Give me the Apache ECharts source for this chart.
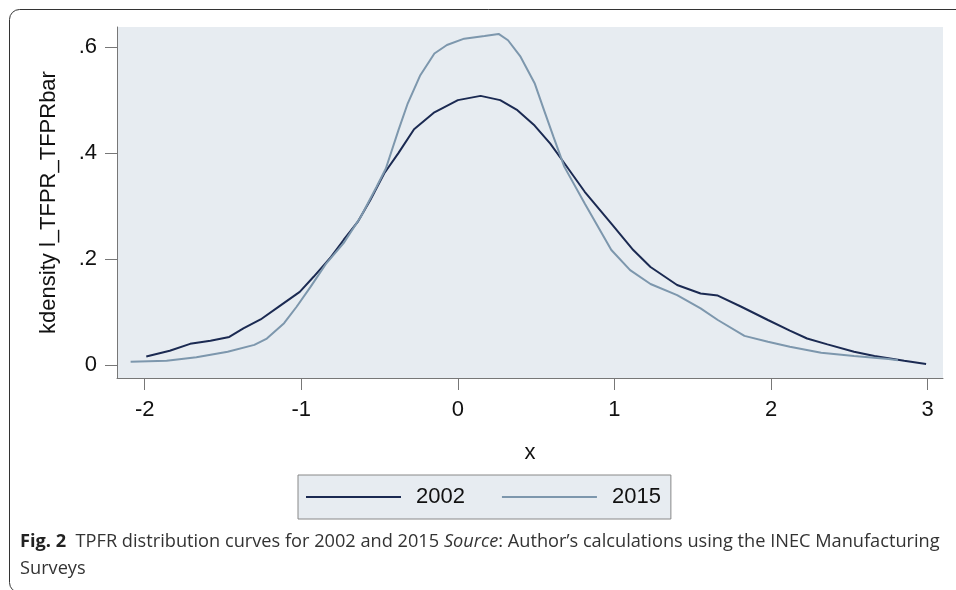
<!DOCTYPE html>
<html>
<head>
<meta charset="utf-8">
<script src="https://cdn.jsdelivr.net/npm/echarts@6/dist/echarts.min.js"></script>
<style>
  html, body { margin: 0; padding: 0; background: #fff; }
  #main { width: 956px; height: 590px; }
</style>
</head>
<body>
<div id="main"></div>
<script>
// kdensity 2002
const x2002 = [-1.99, -1.84, -1.71, -1.58, -1.46, -1.37, -1.26, -1.13, -1.01, -0.92, -0.81, -0.73, -0.64, -0.56, -0.47, -0.38, -0.28, -0.15, 0.00, 0.145, 0.27, 0.38, 0.49, 0.59, 0.67, 0.81, 0.98, 1.12, 1.23, 1.40, 1.55, 1.66, 1.81, 1.98, 2.12, 2.23, 2.36, 2.53, 2.66, 2.85, 2.99];
const y2002 = [0.016, 0.027, 0.040, 0.046, 0.053, 0.069, 0.086, 0.113, 0.138, 0.167, 0.204, 0.236, 0.270, 0.311, 0.362, 0.400, 0.445, 0.477, 0.500, 0.508, 0.500, 0.481, 0.452, 0.418, 0.385, 0.327, 0.267, 0.217, 0.185, 0.151, 0.135, 0.131, 0.110, 0.085, 0.065, 0.050, 0.039, 0.025, 0.017, 0.008, 0.002];
// kdensity 2015
const x2015 = [-2.09, -1.86, -1.67, -1.47, -1.30, -1.22, -1.11, -1.03, -0.94, -0.84, -0.73, -0.62, -0.52, -0.46, -0.38, -0.32, -0.24, -0.15, -0.07, 0.04, 0.17, 0.26, 0.32, 0.40, 0.49, 0.55, 0.61, 0.68, 0.81, 0.98, 1.10, 1.23, 1.40, 1.55, 1.66, 1.83, 1.98, 2.12, 2.32, 2.53, 2.75, 2.81];
const y2015 = [0.006, 0.008, 0.0145, 0.025, 0.038, 0.050, 0.079, 0.110, 0.148, 0.192, 0.230, 0.280, 0.336, 0.371, 0.443, 0.494, 0.547, 0.588, 0.604, 0.616, 0.621, 0.625, 0.613, 0.582, 0.532, 0.481, 0.431, 0.374, 0.305, 0.217, 0.179, 0.153, 0.132, 0.107, 0.085, 0.055, 0.044, 0.0346, 0.023, 0.017, 0.0113, 0.009];

const xTicks = [-2, -1, 0, 1, 2, 3];
const yTicks = [0, 0.2, 0.4, 0.6];
const seriesNames = ['2002', '2015'];

const zip = (xs, ys) => xs.map((x, i) => [x, ys[i]]);

const font = 'Liberation Sans, Arial, sans-serif';
const capFont = 'Open Sans, Noto Sans, sans-serif';

let myChart = echarts.init(document.getElementById('main'));
myChart.setOption({
  animation: false,
  textStyle: { fontFamily: font },
  grid: {
    left: 117, top: 27, width: 826, height: 351,
    show: true, backgroundColor: '#e7ecf1', borderWidth: 0
  },
  xAxis: {
    type: 'value',
    min: -2.177, max: 3.098,
    name: 'x',
    nameLocation: 'middle',
    nameGap: 64,
    nameTextStyle: { fontSize: 22, color: '#111', fontFamily: font },
    axisLine: { show: true, onZero: false, lineStyle: { color: '#777', width: 1 } },
    axisTick: { show: true, length: 12, lineStyle: { color: '#777' }, customValues: xTicks },
    axisLabel: { fontSize: 22, color: '#111', margin: 21, customValues: xTicks },
    splitLine: { show: false }
  },
  yAxis: {
    type: 'value',
    min: -0.0245, max: 0.638,
    name: 'kdensity l_TFPR_TFPRbar',
    nameLocation: 'middle',
    nameGap: 57,
    nameTextStyle: { fontSize: 22, color: '#111', fontFamily: font },
    axisLine: { show: true, onZero: false, lineStyle: { color: '#777', width: 1 } },
    axisTick: { show: true, length: 12, lineStyle: { color: '#777' }, customValues: yTicks },
    axisLabel: {
      fontSize: 22, color: '#111', margin: 20, customValues: yTicks,
      formatter: v => v === 0 ? '0' : String(+v.toFixed(1)).replace(/^0\./, '.')
    },
    splitLine: { show: false }
  },
  legend: {
    data: seriesNames,
    left: 298, top: 475,
    padding: [11, 10, 11, 8],
    itemGap: 37,
    itemWidth: 95, itemHeight: 2,
    icon: 'rect',
    backgroundColor: '#e7ecf1',
    borderColor: '#888', borderWidth: 1,
    textStyle: { fontSize: 22, color: '#111', padding: [0, 0, 0, 10], fontFamily: font }
  },
  series: [
    {
      name: '2002', type: 'line', showSymbol: false,
      data: zip(x2002, y2002),
      lineStyle: { color: '#1b2a52', width: 2 },
      itemStyle: { color: '#1b2a52' }
    },
    {
      name: '2015', type: 'line', showSymbol: false,
      data: zip(x2015, y2015),
      lineStyle: { color: '#7d97ad', width: 2 },
      itemStyle: { color: '#7d97ad' }
    }
  ],
  graphic: [
    {
      type: 'rect',
      shape: { x: 9.5, y: 9.5, width: 1000, height: 583, r: 10 },
      style: { fill: 'none', stroke: '#333', lineWidth: 1 }
    },
    {
      type: 'text', left: 20, top: 533,
      style: {
        text: '{b|Fig. 2}  TPFR distribution curves for 2002 and 2015 {i|Source}: Author\u2019s calculations using the INEC Manufacturing',
        font: '18.2px ' + capFont, fill: '#333',
        rich: {
          b: { fontWeight: 'bold', fontSize: 18.2, fontFamily: capFont, fill: '#222' },
          i: { fontStyle: 'italic', fontSize: 18.2, fontFamily: capFont, fill: '#333' }
        }
      }
    },
    {
      type: 'text', left: 20, top: 560,
      style: { text: 'Surveys', font: '18.2px ' + capFont, fill: '#333' }
    }
  ]
});
window.onresize = function () {
  myChart.resize();
};
</script>
</body>
</html>
